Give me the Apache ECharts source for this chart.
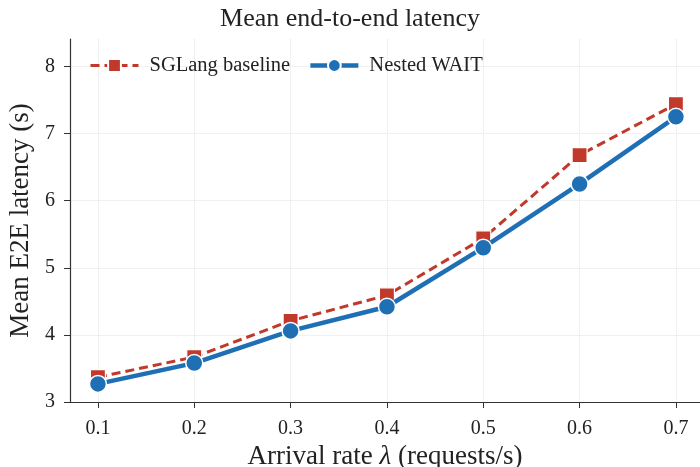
<!DOCTYPE html>
<html><head><meta charset="utf-8">
<script src="https://cdn.jsdelivr.net/npm/echarts@6/dist/echarts.min.js"></script>
<style>html,body{margin:0;padding:0;background:#fff}#c{width:700px;height:467px}</style>
</head><body><div id="c"></div>
<script>
const rates = [0.1, 0.2, 0.3, 0.4, 0.5, 0.6, 0.7];
const sglang = [3.37, 3.67, 4.21, 4.59, 5.44, 6.68, 7.44];
const nested = [3.27, 3.58, 4.06, 4.42, 5.30, 6.25, 7.25];
const yTicks = [3, 4, 5, 6, 7, 8];
const xTicks = [0.1, 0.2, 0.3, 0.4, 0.5, 0.6, 0.7];

const FONT = 'Liberation Serif';
const RED = '#c0392b', BLUE = '#1f6fb5';
const chart = echarts.init(document.getElementById('c'));
chart.setOption({
  backgroundColor: '#fff',
  animation: false,
  title: {
    text: 'Mean end-to-end latency', left: 'center', top: 1,
    textStyle: { fontFamily: FONT, fontSize: 26, fontWeight: 'normal', color: '#222' }
  },
  legend: {
    left: 84, top: 50, itemWidth: 48, itemHeight: 16, itemGap: 18,
    textStyle: { fontFamily: FONT, fontSize: 20.5, color: '#222', padding: [0, 0, 0, 6] },
    data: [
      { name: 'SGLang baseline', lineStyle: { width: 3, type: [9, 5] } },
      { name: 'Nested WAIT', lineStyle: { width: 4.5 } }
    ]
  },
  grid: { left: 70, right: 0, top: 39, bottom: 65, containLabel: false, outerBoundsMode: 'none' },
  xAxis: {
    type: 'value', min: 0.071, max: 0.725,
    name: 'Arrival rate {i|λ} (requests/s)', nameLocation: 'middle', nameGap: 40,
    nameTextStyle: { fontFamily: FONT, fontSize: 27, color: '#222',
      rich: { i: { fontFamily: FONT, fontStyle: 'italic', fontSize: 27, color: '#222' } } },
    axisLine: { lineStyle: { color: '#333', width: 1.2 } },
    axisTick: { customValues: xTicks, length: 6, lineStyle: { color: '#333' } },
    axisLabel: { customValues: xTicks, fontFamily: FONT, fontSize: 20, color: '#222', margin: 17,
      formatter: v => v.toFixed(1) },
    splitLine: { show: true, lineStyle: { color: '#ddd', type: 'dotted', width: 0.8 } }
  },
  yAxis: {
    type: 'value', min: 3, max: 8.41, interval: 1,
    name: 'Mean E2E latency (s)', nameLocation: 'middle', nameGap: 33,
    nameTextStyle: { fontFamily: FONT, fontSize: 27, color: '#222' },
    axisLine: { show: true, lineStyle: { color: '#333', width: 1.2 } },
    axisTick: { show: true, customValues: yTicks, length: 6, lineStyle: { color: '#333' } },
    axisLabel: { customValues: yTicks, fontFamily: FONT, fontSize: 20, color: '#222', margin: 15 },
    splitLine: { show: true, lineStyle: { color: '#ddd', type: 'dotted', width: 0.8 } }
  },
  series: [
    {
      name: 'SGLang baseline', type: 'line',
      data: rates.map((x, i) => [x, sglang[i]]),
      symbol: 'rect', symbolSize: 15,
      lineStyle: { color: RED, width: 3, type: [9, 5] },
      itemStyle: { color: RED, borderColor: '#fff', borderWidth: 1.2 },
      z: 2
    },
    {
      name: 'Nested WAIT', type: 'line',
      data: rates.map((x, i) => [x, nested[i]]),
      symbol: 'circle', symbolSize: 17,
      lineStyle: { color: BLUE, width: 4.5 },
      itemStyle: { color: BLUE, borderColor: '#fff', borderWidth: 1.5 },
      z: 3
    }
  ]
});
</script></body></html>
